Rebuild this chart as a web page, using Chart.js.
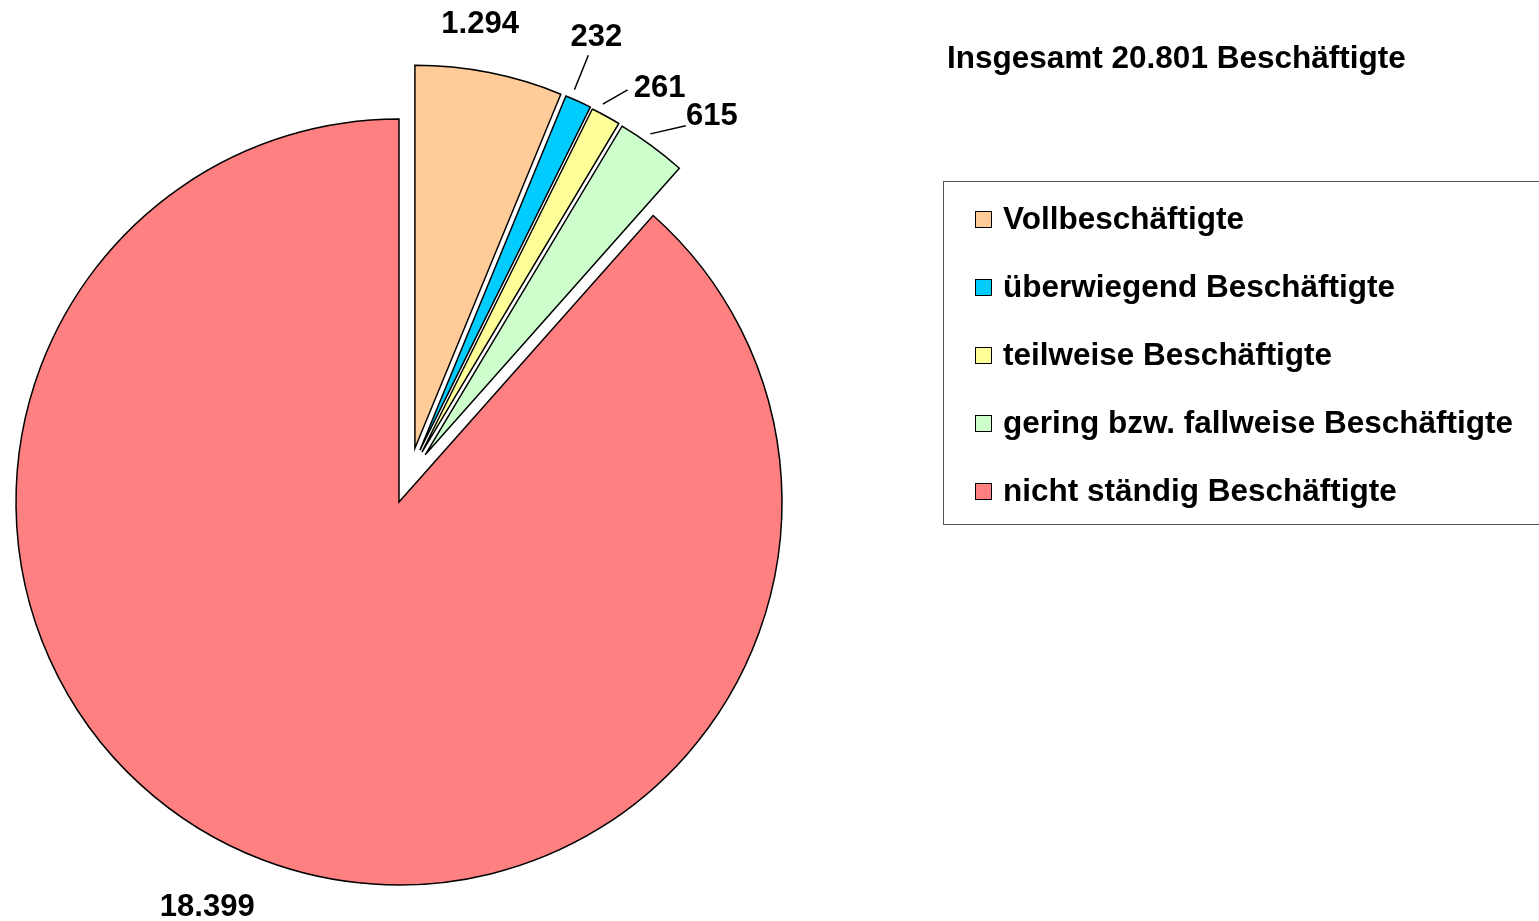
<!DOCTYPE html>
<html>
<head>
<meta charset="utf-8">
<script src="https://cdn.jsdelivr.net/npm/chart.js@4.4.0/dist/chart.umd.min.js"></script>
<style>
  html, body { margin: 0; padding: 0; background: #fff; }
  #wrap { position: relative; width: 1539px; height: 921px; overflow: hidden; font-family: "Liberation Sans", Arial, sans-serif; font-weight: bold; }
  #wrap canvas { position: absolute; left: 0; top: 0; }
  #title { position: absolute; left: 947px; top: 39px; font-size: 31.5px; color: #000; white-space: nowrap; }
  #legend { position: absolute; left: 943px; top: 181px; width: 620px; height: 344px; border: 1px solid #555; box-sizing: border-box; }
  .item { position: absolute; left: 31px; font-size: 31.5px; white-space: nowrap; line-height: 36px; }
  .box { display: inline-block; width: 15px; height: 15px; border: 1.5px solid #000; margin-right: 11px; vertical-align: 1px; }
</style>
</head>
<body>
<div id="wrap">
  <canvas id="pie"></canvas>
  <div id="title"></div>
  <div id="legend"></div>
</div>
<script>
// Daten
const kategorien = ['Vollbeschäftigte', 'überwiegend Beschäftigte', 'teilweise Beschäftigte', 'gering bzw. fallweise Beschäftigte', 'nicht ständig Beschäftigte'];
const werte = [1294, 232, 261, 615, 18399];
const beschriftungen = ['1.294', '232', '261', '615', '18.399'];
const farben = ['#FFCC99', '#00CCFF', '#FFFF99', '#CCFFCC', '#FF8080'];
const titel = 'Insgesamt 20.801 Beschäftigte';

// Kreisgröße und Explosion der Segmente (Abstand px, Richtung in Grad von oben)
const RADIUS = 383;
const explodeDist = [56, 56, 55, 54, 0];
const explodeDir = [16.5, 22, 24.7, 29, 0];

// Layout der Beschriftungen (Verschiebung in px, Endpunkt der Hinweislinie)
const labelNudge = [[-20, 4], [-5, -16], [27, 19], [27, 13], [-36, -8]];
const leaderEnd = [null, [-8, 21], [-32, 4], [-26, 12], null];

document.getElementById('title').textContent = titel;
const legend = document.getElementById('legend');
kategorien.forEach((k, i) => {
    const d = document.createElement('div');
    d.className = 'item';
    d.style.top = (18 + i * 68) + 'px';
    d.innerHTML = '<span class="box" style="background:' + farben[i] + '"></span>';
    d.appendChild(document.createTextNode(k));
    legend.appendChild(d);
});

function explodeVec(i) {
    const a = explodeDir[i] * Math.PI / 180;
    return [Math.sin(a) * explodeDist[i], -Math.cos(a) * explodeDist[i]];
}

// Segmente nach außen verschieben, ohne Radius und Winkel zu verändern
const explodePlugin = {
    id: 'explode',
    beforeDatasetsDraw(chart) {
        const meta = chart.getDatasetMeta(0);
        meta.data.forEach((arc, i) => {
            if (arc._explodePatched) return;
            arc._explodePatched = true;
            const baseDraw = arc.draw;
            arc.draw = function (ctx) {
                const v = explodeVec(i);
                ctx.save();
                ctx.translate(v[0], v[1]);
                baseDraw.call(this, ctx);
                ctx.restore();
            };
        });
    }
};

// Werte-Beschriftungen
const labelPlugin = {
    id: 'werteLabels',
    afterDatasetsDraw(chart) {
        const ctx = chart.ctx;
        const meta = chart.getDatasetMeta(0);
        ctx.save();
        ctx.font = 'bold 31px "Liberation Sans", Arial, sans-serif';
        ctx.fillStyle = '#000';
        ctx.strokeStyle = '#000';
        ctx.lineWidth = 1.5;
        ctx.textAlign = 'center';
        ctx.textBaseline = 'middle';
        meta.data.forEach((arc, i) => {
            const p = arc.getProps(['x', 'y', 'startAngle', 'endAngle', 'outerRadius']);
            const mid = (p.startAngle + p.endAngle) / 2;
            const v = explodeVec(i);
            const cx = p.x + v[0];
            const cy = p.y + v[1];
            const r = p.outerRadius + 56;
            const lx = cx + r * Math.cos(mid) + labelNudge[i][0];
            const ly = cy + r * Math.sin(mid) + labelNudge[i][1];
            if (leaderEnd[i]) {
                const a = mid - 1.2 * Math.PI / 180;
                ctx.beginPath();
                ctx.moveTo(cx + (p.outerRadius + 9) * Math.cos(a), cy + (p.outerRadius + 9) * Math.sin(a));
                ctx.lineTo(lx + leaderEnd[i][0], ly + leaderEnd[i][1]);
                ctx.stroke();
            }
            ctx.fillText(beschriftungen[i], lx, ly + 3);
        });
        ctx.restore();
    }
};

const canvas = document.getElementById('pie');
canvas.width = 1539;
canvas.height = 921;
const pieChart = new Chart(canvas.getContext('2d'), {
    type: 'pie',
    data: {
        labels: kategorien,
        datasets: [{
            data: werte,
            backgroundColor: farben,
            borderColor: '#000',
            borderWidth: 1.5,
            borderJoinStyle: 'miter'
        }]
    },
    options: {
        responsive: false,
        animation: false,
        events: [],
        radius: RADIUS,
        layout: { padding: { left: 0, right: 741, top: 83, bottom: 0 } },
        plugins: {
            legend: { display: false },
            tooltip: { enabled: false },
            title: { display: false }
        }
    },
    plugins: [explodePlugin, labelPlugin]
});
pieChart.draw();
</script>
</body>
</html>
